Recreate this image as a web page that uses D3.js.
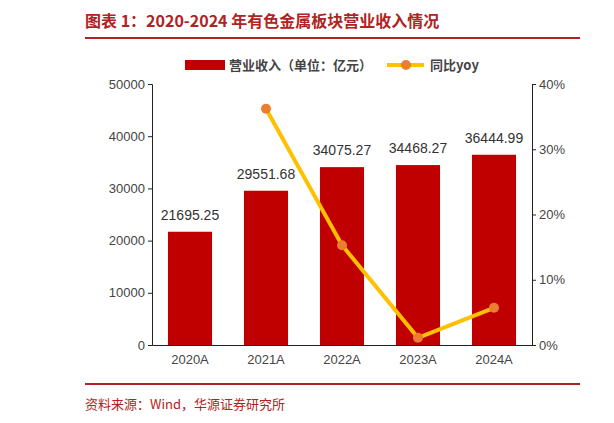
<!DOCTYPE html>
<html><head><meta charset="utf-8">
<script src="https://cdn.jsdelivr.net/npm/d3@7"></script>
<style>body{margin:0;background:#fff}svg{font-family:"Noto Sans CJK SC",sans-serif}</style>
</head><body><svg width="614" height="423"></svg>
<script>
const years = ['2020A','2021A','2022A','2023A','2024A']
const revenue = [21695.25, 29551.68, 34075.27, 34468.27, 36444.99]
const yoy = [null, 36.2, 15.3, 1.1, 5.7]
const leftTicks = [0,10000,20000,30000,40000,50000]
const rightTicks = [0,10,20,30,40]

const svg = d3.select('svg')
const red = '#c00000', dark = '#b22222'

svg.append('text').attr('x',85).attr('y',27).attr('fill',dark).attr('font-size',16).attr('font-weight','bold')
  .text('图表 1：2020-2024 年有色金属板块营业收入情况')
svg.append('line').attr('x1',85).attr('x2',580).attr('y1',38).attr('y2',38).attr('stroke',dark).attr('stroke-width',2)
svg.append('line').attr('x1',85).attr('x2',580).attr('y1',384).attr('y2',384).attr('stroke',dark).attr('stroke-width',2)
svg.append('text').attr('x',85).attr('y',409).attr('fill',dark).attr('font-size',13)
  .text('资料来源：Wind，华源证券研究所')

const x = d3.scaleBand().domain(years).range([152,532]).paddingInner(0.42).paddingOuter(0.21)
const y = d3.scaleLinear().domain([0,50000]).range([345,84])
const y2 = d3.scaleLinear().domain([0,40]).range([345,84])

svg.append('g').attr('transform','translate(152,0)')
  .call(d3.axisLeft(y).tickValues(leftTicks).tickSize(4).tickFormat(d3.format('d')))
  .call(g=>g.selectAll('text').attr('font-size',13).attr('fill','#444').attr('font-family','Liberation Sans'))
  .call(g=>g.selectAll('line,path').attr('stroke','#222'))
svg.append('g').attr('transform','translate(532,0)')
  .call(d3.axisRight(y2).tickValues(rightTicks).tickSize(4).tickFormat(d=>d+'%'))
  .call(g=>g.selectAll('text').attr('font-size',13).attr('fill','#444').attr('font-family','Liberation Sans'))
  .call(g=>g.selectAll('line,path').attr('stroke','#222'))
svg.append('g').attr('transform','translate(0,345)')
  .call(d3.axisBottom(x).tickSize(0).tickPadding(10))
  .call(g=>g.selectAll('text').attr('font-size',13).attr('fill','#444').attr('font-family','Liberation Sans'))
  .call(g=>g.select('path').attr('stroke','#222'))

svg.selectAll('.bar').data(revenue).join('rect')
  .attr('x',(d,i)=>x(years[i])).attr('width',x.bandwidth())
  .attr('y',d=>y(d)).attr('height',d=>345-y(d)).attr('fill',red)
svg.selectAll('.lbl').data(revenue).join('text')
  .attr('x',(d,i)=>x(years[i])+x.bandwidth()/2).attr('y',d=>y(d)-12)
  .attr('text-anchor','middle').attr('font-size',14).attr('fill','#333').attr('font-family','Liberation Sans')
  .text(d=>d.toFixed(2))

const pts = yoy.map((v,i)=>({v,i})).filter(d=>d.v!=null)
svg.append('path').datum(pts)
  .attr('d',d3.line().x(d=>x(years[d.i])+x.bandwidth()/2).y(d=>y2(d.v)))
  .attr('fill','none').attr('stroke','#ffc000').attr('stroke-width',4)
svg.selectAll('.pt').data(pts).join('circle')
  .attr('cx',d=>x(years[d.i])+x.bandwidth()/2).attr('cy',d=>y2(d.v)).attr('r',5).attr('fill','#ed7d31')

const lg = svg.append('g').attr('font-size',13).attr('fill','#444').attr('font-weight','bold')
lg.append('rect').attr('x',185).attr('y',60).attr('width',40).attr('height',10).attr('fill',red)
lg.append('text').attr('x',229).attr('y',70).text('营业收入（单位：亿元）')
lg.append('line').attr('x1',387).attr('x2',424).attr('y1',65).attr('y2',65).attr('stroke','#ffc000').attr('stroke-width',4)
lg.append('circle').attr('cx',406).attr('cy',65).attr('r',5).attr('fill','#ed7d31')
lg.append('text').attr('x',430).attr('y',70).text('同比yoy')
</script></body></html>
